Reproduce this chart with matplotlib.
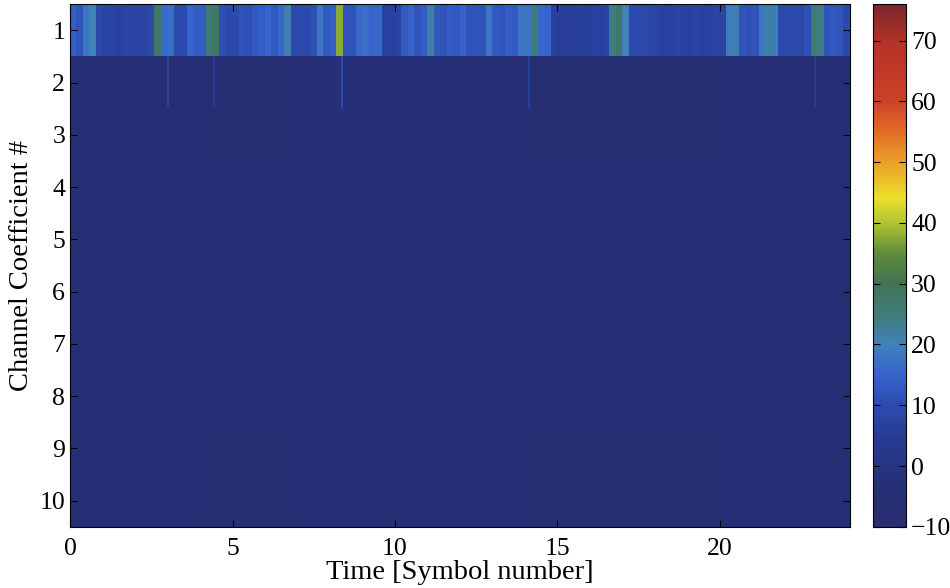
import numpy as np
import matplotlib
matplotlib.use("Agg")
import matplotlib.pyplot as plt
from matplotlib.colors import LinearSegmentedColormap

plt.rcParams['font.family'] = ['Liberation Serif', 'DejaVu Serif']

# ---- data (dB-like magnitude per channel coefficient) ----
n_symbols = 24
samples_per_symbol = 5          # row-1 resolution: 0.2 symbol
# Coefficient 1, 5 samples per symbol (symbols 0..23)
coef1 = [
    14, 12, 18, 20, 10,   # 0
    8, 8, 7, 8, 8,        # 1
    8, 8, 9, 27, 16,      # 2
    17, 10, 10, 15, 14,   # 3
    14, 26, 28, 11, 10,   # 4
    10, 12, 11, 13, 14,   # 5
    15, 13, 16, 21, 10,   # 6
    10, 10, 11, 18, 13,   # 7
    14, 38, 12, 12, 16,   # 8
    17, 15, 16, 7, 7,     # 9
    8, 13, 15, 12, 14,    # 10
    22, 13, 12, 14, 13,   # 11
    15, 12, 12, 12, 18,   # 12
    13, 12, 14, 13, 18,   # 13
    18, 25, 16, 15, 7,    # 14
    6, 6, 6, 7, 6,        # 15
    7, 7, 8, 24, 27,      # 16
    20, 10, 10, 9, 9,     # 17
    8, 7, 7, 8, 7,        # 18
    7, 8, 7, 7, 8,        # 19
    8, 19, 21, 12, 11,    # 20
    12, 18, 22, 19, 10,   # 21
    10, 10, 9, 11, 26,    # 22
    24, 12, 13, 12, 10,   # 23
]
# Coefficients 2..10: background level per symbol
lower_profile = [-4.5, -4.0, -4.0, -4.5, -5.0, -5.0, -5.0, -4.0, -3.5, -3.5, -3.5, -3.5,
                 -4.0, -4.5, -5.0, -5.0, -5.0, -5.0, -5.0, -5.0, -4.5, -4.0, -4.0, -4.5]
lower_row_offset = [0.0, 0.0, 0.2, 0.4, 0.4, 0.3, 0.2, 0.0, -0.2]   # rows 2..10
# Thin leakage spikes seen in coefficient 2
spike_times = [3.0, 4.4, 8.35, 14.1, 22.9]
spike_values = [6, 4, 10, 6, 5]

vmin, vmax = -10, 76
xticks = [0, 5, 10, 15, 20]
yticks = list(range(1, 11))
cbar_ticks = [-10, 0, 10, 20, 30, 40, 50, 60, 70]

# ---- build the image on a fine grid ----
fine = 20                       # columns per symbol
ncols = n_symbols * fine
img = np.zeros((10, ncols))
img[0] = np.repeat(np.array(coef1, float), fine // samples_per_symbol)
lp = np.repeat(np.array(lower_profile, float), fine)
for r in range(9):
    img[r + 1] = lp + lower_row_offset[r]
for t, v in zip(spike_times, spike_values):
    img[1, int(round(t * fine))] = v

# washed-out jet colormap (as in the scanned figure)
anchors = [(-10, (40, 45, 110)), (-3, (38, 48, 120)), (5, (40, 60, 148)),
           (10, (45, 75, 175)), (15, (55, 100, 205)), (20, (65, 130, 185)),
           (25, (62, 125, 122)), (30, (65, 115, 85)), (35, (95, 140, 60)),
           (40, (175, 195, 50)), (44, (235, 225, 45)), (50, (235, 160, 40)),
           (55, (225, 110, 40)), (60, (205, 65, 40)), (70, (180, 50, 40)),
           (76, (120, 40, 45))]
cmap = LinearSegmentedColormap.from_list(
    "scanjet", [((v - vmin) / (vmax - vmin), tuple(c / 255 for c in rgb)) for v, rgb in anchors])

fig = plt.figure(figsize=(9.5, 5.88), dpi=100)
ax = fig.add_axes([0.0737, 0.104, 0.8210, 0.889])
im = ax.imshow(img, cmap=cmap, vmin=vmin, vmax=vmax, aspect='auto',
               extent=[0, n_symbols, 10.5, 0.5], interpolation='nearest')
ax.set_xticks(xticks)
ax.set_yticks(yticks)
ax.tick_params(direction='in', top=True, right=True, labelsize=18.5, length=5, width=0.8)
ax.tick_params(axis='x', pad=8)
ax.set_xlabel("Time [Symbol number]", fontsize=20.5, labelpad=0)
ax.set_ylabel("Channel Coefficient #", fontsize=20.5, labelpad=4)

cax = fig.add_axes([0.919, 0.104, 0.035, 0.889])
cb = fig.colorbar(im, cax=cax, ticks=cbar_ticks)
cb.ax.tick_params(direction='in', left=True, right=True, labelsize=18.5, length=5, width=0.8)
cb.outline.set_linewidth(0.8)

fig.savefig("out.png", dpi=100)
